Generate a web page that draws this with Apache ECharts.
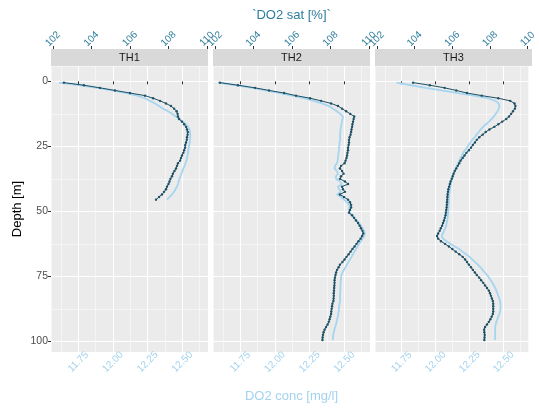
<!DOCTYPE html>
<html><head><meta charset="utf-8">
<script src="https://cdn.jsdelivr.net/npm/echarts@6/dist/echarts.min.js"></script>
<style>html,body{margin:0;padding:0;background:#fff}#c{width:539px;height:409px}</style>
</head><body><div id="c"></div>
<script>
const panels = ['TH1', 'TH2', 'TH3'];
const depthTicks = [0, 25, 50, 75, 100];
const concTicks = [11.75, 12.00, 12.25, 12.50];
const satTicks = [102, 104, 106, 108, 110];

const depth = [0.5,1.5,2.5,3.5,4.5,5.5,6.5,7.5,8.5,9.5,
10.5,11.5,12.5,13.5,14.5,15.5,16.5,17.5,18.5,19.5,
20.5,21.5,22.5,23.5,24.5,25.5,26.5,27.5,28.5,29.5,
30.5,31.5,32.5,33.5,34.5,35.5,36.5,37.5,38.5,39.5,
40.5,41.5,42.5,43.5,44.5,45.5,46.5,47.5,48.5,49.5,
50.5,51.5,52.5,53.5,54.5,55.5,56.5,57.5,58.5,59.5,
60.5,61.5,62.5,63.5,64.5,65.5,66.5,67.5,68.5,69.5,
70.5,71.5,72.5,73.5,74.5,75.5,76.5,77.5,78.5,79.5,
80.5,81.5,82.5,83.5,84.5,85.5,86.5,87.5,88.5,89.5,
90.5,91.5,92.5,93.5,94.5,95.5,96.5,97.5,98.5,99.5];

const th1Sat = [102.57,103.61,104.44,105.22,106.00,106.78,107.20,107.56,107.87,108.13,
108.29,108.42,108.47,108.49,108.55,108.70,108.81,108.91,108.96,109.00,
108.99,108.96,108.95,108.91,108.87,108.86,108.81,108.77,108.70,108.65,
108.60,108.49,108.44,108.39,108.31,108.23,108.18,108.10,108.05,108.00,
107.92,107.87,107.77,107.66,107.51,107.35];
const th1Conc = [11.611,11.762,11.885,11.993,12.094,12.173,12.231,12.267,12.303,12.332,
12.360,12.397,12.425,12.454,12.476,12.505,12.526,12.541,12.552,12.555,
12.557,12.557,12.555,12.553,12.550,12.547,12.543,12.541,12.537,12.534,
12.530,12.523,12.516,12.508,12.500,12.494,12.487,12.479,12.474,12.469,
12.461,12.451,12.440,12.425,12.407,12.389];

const th2Sat = [102.26,103.20,104.08,104.81,105.59,106.21,106.94,107.51,108.03,108.39,
108.60,108.81,109.02,109.23,109.20,109.17,109.14,109.12,109.09,109.07,
109.04,108.99,108.96,108.96,108.94,108.91,108.91,108.88,108.86,108.83,
108.78,108.73,108.55,108.49,108.60,108.68,108.55,108.49,108.75,108.91,
108.60,108.65,108.75,108.49,108.70,108.91,109.01,109.07,109.07,109.01,
108.96,109.12,109.22,109.32,109.43,109.51,109.58,109.66,109.70,109.64,
109.56,109.45,109.35,109.25,109.14,109.04,108.94,108.83,108.73,108.62,
108.49,108.42,108.34,108.29,108.26,108.23,108.21,108.21,108.20,108.19,
108.18,108.17,108.17,108.16,108.15,108.10,108.08,108.06,108.04,108.03,
107.99,107.95,107.91,107.85,107.77,107.69,107.64,107.61,107.59,107.58];
const th2Conc = [11.589,11.719,11.834,11.935,12.036,12.123,12.209,12.281,12.339,12.389,
12.418,12.447,12.469,12.490,12.487,12.483,12.479,12.476,12.472,12.472,
12.469,12.469,12.469,12.465,12.465,12.461,12.461,12.458,12.456,12.454,
12.451,12.447,12.433,12.429,12.447,12.454,12.440,12.440,12.469,12.483,
12.454,12.461,12.476,12.447,12.476,12.497,12.519,12.534,12.537,12.534,
12.534,12.555,12.573,12.591,12.606,12.620,12.631,12.642,12.649,12.642,
12.631,12.620,12.606,12.595,12.584,12.573,12.562,12.552,12.541,12.530,
12.519,12.508,12.497,12.487,12.479,12.476,12.474,12.473,12.472,12.471,
12.471,12.470,12.469,12.469,12.469,12.465,12.463,12.461,12.459,12.456,
12.453,12.448,12.444,12.440,12.434,12.428,12.424,12.420,12.418,12.416];

const th3Sat = [103.92,104.81,105.59,106.21,106.78,107.56,108.44,109.07,109.30,109.35,
109.32,109.22,109.12,109.01,108.86,108.65,108.44,108.23,107.97,107.77,
107.61,107.43,107.30,107.20,107.09,106.99,106.88,106.75,106.65,106.55,
106.44,106.37,106.29,106.21,106.13,106.07,106.02,105.97,105.91,105.87,
105.83,105.79,105.77,105.75,105.74,105.73,105.72,105.71,105.70,105.68,
105.66,105.64,105.60,105.56,105.51,105.46,105.39,105.33,105.25,105.19,
105.25,105.40,105.61,105.82,106.00,106.18,106.37,106.55,106.68,106.78,
106.88,106.99,107.09,107.20,107.30,107.43,107.53,107.64,107.74,107.84,
107.94,108.00,108.05,108.10,108.15,108.17,108.17,108.17,108.17,108.15,
108.09,108.02,107.94,107.84,107.74,107.69,107.70,107.72,107.71,107.70];
const th3Conc = [11.712,11.820,11.928,12.043,12.166,12.281,12.382,12.440,12.465,12.469,
12.465,12.456,12.443,12.429,12.411,12.393,12.371,12.350,12.332,12.317,
12.301,12.287,12.270,12.256,12.242,12.231,12.216,12.203,12.195,12.184,
12.175,12.166,12.157,12.148,12.139,12.132,12.126,12.121,12.115,12.112,
12.108,12.105,12.102,12.100,12.098,12.097,12.096,12.095,12.094,12.094,
12.092,12.090,12.088,12.085,12.081,12.078,12.071,12.061,12.053,12.045,
12.054,12.079,12.108,12.141,12.173,12.198,12.224,12.249,12.270,12.291,
12.310,12.328,12.346,12.361,12.379,12.393,12.406,12.418,12.429,12.440,
12.447,12.454,12.461,12.469,12.474,12.477,12.478,12.477,12.474,12.469,
12.461,12.454,12.447,12.442,12.438,12.438,12.438,12.438,12.438,12.438];

const satSeries = [th1Sat, th2Sat, th3Sat];
const concSeries = [th1Conc, th2Conc, th3Conc];

// layout & style
const FONT = 'Liberation Sans, Arial, sans-serif';
const PL = [51, 213, 375], PW = 157, PT = 66, PH = 286, STRIP = 17;
const DEPTH_MIN = -5.9, DEPTH_MAX = 104.1;
const CONC_MIN = 11.553, CONC_MAX = 12.685;
const SAT_MIN = 101.9, SAT_MAX = 110.05;
const DARK = '#1f5064', LIGHT = '#a6d5ef', DARKTXT = '#2f7d9e', LIGHTTXT = '#a3d2ee';

const grids = [], xAxes = [], yAxes = [], series = [], graphics = [];
panels.forEach((p, i) => {
  grids.push({left: PL[i], top: PT, width: PW, height: PH, show: true,
    backgroundColor: '#EBEBEB', borderWidth: 0, containLabel: false});
  xAxes.push({gridIndex: i, type: 'value', position: 'bottom', min: CONC_MIN, max: CONC_MAX,
    minInterval: 0.25, maxInterval: 0.25,
    axisLine: {show: false},
    axisTick: {show: true, customValues: concTicks, length: 3, lineStyle: {color: '#333', width: 1}},
    axisLabel: {customValues: concTicks, rotate: 45, align: 'center', verticalAlign: 'middle',
      color: LIGHTTXT, fontSize: 10, margin: 10, fontFamily: FONT,
      formatter: v => Number(v).toFixed(2)},
    splitLine: {show: true, lineStyle: {color: '#fff', width: 1}},
    name: i === 1 ? 'DO2 conc [mg/l]' : '', nameLocation: 'middle', nameGap: 38,
    nameTextStyle: {color: LIGHTTXT, fontSize: 13, fontFamily: FONT}});
  xAxes.push({gridIndex: i, type: 'value', position: 'bottom', min: CONC_MIN, max: CONC_MAX,
    minInterval: 0.125, maxInterval: 0.125,
    axisLine: {show: false}, axisTick: {show: false}, axisLabel: {show: false},
    splitLine: {show: true, lineStyle: {color: '#fff', width: 0.5}}});
  xAxes.push({gridIndex: i, type: 'value', position: 'top', offset: STRIP, min: SAT_MIN, max: SAT_MAX,
    minInterval: 2, maxInterval: 2,
    axisLine: {show: false},
    axisTick: {show: true, customValues: satTicks, length: 3, lineStyle: {color: '#333', width: 1}},
    axisLabel: {customValues: satTicks, rotate: -45, align: 'center', verticalAlign: 'middle',
      color: DARKTXT, fontSize: 10, margin: 10, fontFamily: FONT},
    splitLine: {show: false},
    name: i === 1 ? '`DO2 sat [%]`' : '', nameLocation: 'middle', nameGap: 27,
    nameTextStyle: {color: DARKTXT, fontSize: 13, fontFamily: FONT}});
  yAxes.push({gridIndex: i, type: 'value', inverse: true, min: DEPTH_MIN, max: DEPTH_MAX,
    minInterval: 25, maxInterval: 25,
    axisLine: {show: false},
    axisTick: {show: i === 0, customValues: depthTicks, length: 3, lineStyle: {color: '#333', width: 1}},
    axisLabel: {show: i === 0, customValues: depthTicks, color: '#4d4d4d', fontSize: 10.5, margin: 3, fontFamily: FONT},
    splitLine: {show: true, lineStyle: {color: '#fff', width: 1}},
    name: i === 0 ? 'Depth [m]' : '', nameLocation: 'middle', nameGap: 27, nameRotate: 90,
    nameTextStyle: {color: '#000', fontSize: 13, fontFamily: FONT}});
  yAxes.push({gridIndex: i, type: 'value', inverse: true, min: DEPTH_MIN, max: DEPTH_MAX,
    minInterval: 12.5, maxInterval: 12.5,
    axisLine: {show: false}, axisTick: {show: false}, axisLabel: {show: false},
    splitLine: {show: true, lineStyle: {color: '#fff', width: 0.5}}});

  series.push({type: 'line', name: p + ' conc', xAxisIndex: 3 * i, yAxisIndex: 2 * i,
    data: concSeries[i].map((v, k) => [v, depth[k]]),
    showSymbol: false, symbol: 'none', lineStyle: {color: LIGHT, width: 1.8}, itemStyle: {color: LIGHT},
    silent: true, z: 2});
  series.push({type: 'line', name: p + ' sat', xAxisIndex: 3 * i + 2, yAxisIndex: 2 * i,
    data: satSeries[i].map((v, k) => [v, depth[k]]),
    symbol: 'circle', symbolSize: 2.4, showAllSymbol: true,
    lineStyle: {color: DARK, width: 1}, itemStyle: {color: DARK},
    silent: true, z: 3});

  graphics.push({type: 'rect', shape: {x: PL[i], y: PT - STRIP, width: PW, height: STRIP},
    style: {fill: '#D9D9D9'}, silent: true});
  graphics.push({type: 'text', x: PL[i] + PW / 2, y: PT - STRIP / 2,
    style: {text: p, fill: '#1a1a1a', font: '11px ' + FONT, textAlign: 'center', textVerticalAlign: 'middle'},
    silent: true});
});

const chart = echarts.init(document.getElementById('c'), null, {renderer: 'canvas'});
chart.setOption({
  animation: false,
  backgroundColor: '#fff',
  grid: grids, xAxis: xAxes, yAxis: yAxes, series: series, graphic: graphics
});
</script></body></html>
